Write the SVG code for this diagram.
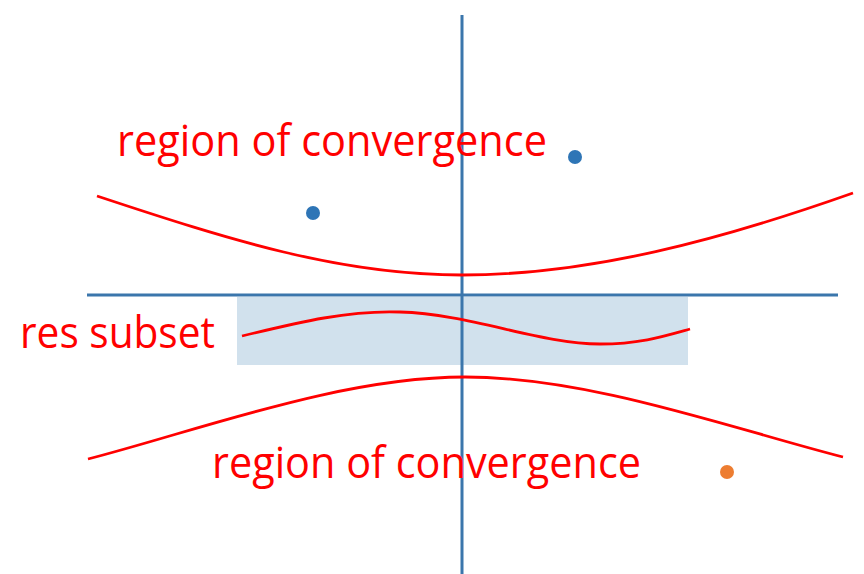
<svg xmlns="http://www.w3.org/2000/svg" width="864" height="574" viewBox="0 0 864 574">
<style>
.axis{stroke:#3b76ac;stroke-width:3;fill:none}
.curve{stroke:#ff0000;stroke-width:2.8;fill:none}
.lbl{font-family:"Open Sans","Noto Sans",sans-serif;font-size:43px;fill:#ff0000}
</style>
<rect width="864" height="574" fill="#ffffff"/>
<g id="subset-region"><rect x="237" y="297" width="451" height="68" fill="#d1e1ed"/></g>
<g id="axes">
<line class="axis" x1="87" y1="295" x2="838" y2="295"/>
<line class="axis" x1="462" y1="15" x2="462" y2="574"/>
</g>
<g id="points">
<circle cx="313" cy="213" r="7" fill="#2e75b6"/>
<circle cx="575" cy="157" r="7" fill="#2e75b6"/>
<circle cx="727" cy="472" r="7" fill="#ed7d31"/>
</g>
<g id="connectors">
<path class="curve" d="M97,196 C230,240 340,275 462,275 C590,275 720,240 853,193"/>
<path class="curve" d="M242,336 C300,322 350,310 400,312 C470,314 540,344 600,344 C640,344 665,336 690,329"/>
<path class="curve" d="M88,459 C200,430 340,377 465,377 C590,377 730,428 843,457"/>
</g>
<g id="labels">
<text class="lbl" x="117" y="156" textLength="430" lengthAdjust="spacingAndGlyphs">region of convergence</text>
<text class="lbl" x="212" y="478" textLength="429" lengthAdjust="spacingAndGlyphs">region of convergence</text>
<text class="lbl" x="20" y="348" textLength="195" lengthAdjust="spacingAndGlyphs">res subset</text>
</g>
</svg>
